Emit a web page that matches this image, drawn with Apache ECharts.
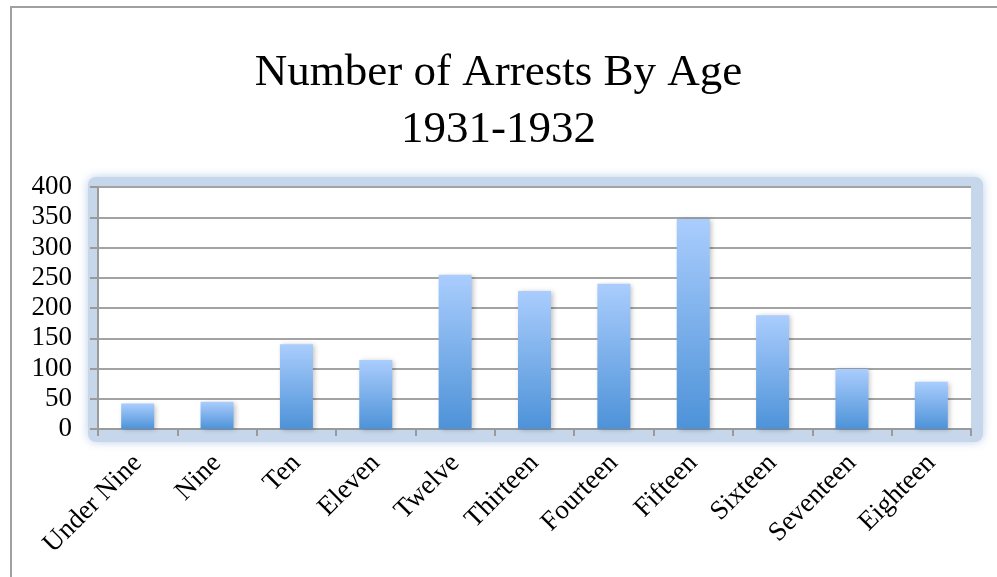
<!DOCTYPE html>
<html>
<head>
<meta charset="utf-8">
<script src="https://cdn.jsdelivr.net/npm/echarts@6/dist/echarts.min.js"></script>
<style>
  html, body { margin: 0; padding: 0; background: #fff; }
  #arrestsChart { width: 997px; height: 577px; }
</style>
</head>
<body>
<div id="arrestsChart"></div>
<script>
// ages and arrest counts
var ageLabels = ['Under Nine', 'Nine', 'Ten', 'Eleven', 'Twelve', 'Thirteen', 'Fourteen', 'Fifteen', 'Sixteen', 'Seventeen', 'Eighteen'];
var arrestCounts = [42, 45, 140, 114, 255, 228, 240, 347, 188, 99, 78];
var yTicks = [0, 50, 100, 150, 200, 250, 300, 350, 400];

var serif = '"Liberation Serif", "DejaVu Serif", serif';
var myChart = echarts.init(document.getElementById('arrestsChart'));

var option = {
    backgroundColor: '#fff',
    animation: false,
    title: {
        text: 'Number of Arrests By Age\n1931-1932',
        left: 'center',
        top: 45,
        padding: [0, 0, 0, 16],
        textStyle: {
            fontFamily: serif,
            fontSize: 45,
            fontWeight: 'normal',
            color: '#000',
            lineHeight: 57
        }
    },
    graphic: [
        {
            // outer frame, only left and top show
            type: 'rect',
            z: -10,
            shape: { x: 11, y: 7, width: 1010, height: 600 },
            style: { fill: '#fff', stroke: '#a0a0a0', lineWidth: 2 }
        },
        {
            // blue glow round the plot area
            type: 'rect',
            z: -5,
            shape: { x: 88, y: 177, width: 895, height: 265, r: 8 },
            style: {
                fill: '#c6d7ec',
                shadowBlur: 10,
                shadowColor: 'rgba(180,202,230,0.9)'
            }
        }
    ],
    grid: {
        left: 98,
        right: 26,
        top: 187,
        bottom: 148,
        show: true,
        backgroundColor: '#fff',
        borderWidth: 0
    },
    xAxis: {
        type: 'category',
        data: ageLabels,
        axisLine: { lineStyle: { color: '#9a9a9a', width: 2 } },
        axisTick: { show: true, length: 7, lineStyle: { color: '#9a9a9a', width: 2 } },
        axisLabel: {
            interval: 0,
            rotate: 45,
            margin: 30,
            fontFamily: serif,
            fontSize: 27,
            color: '#000'
        }
    },
    yAxis: {
        type: 'value',
        min: yTicks[0],
        max: yTicks[yTicks.length - 1],
        interval: yTicks[1] - yTicks[0],
        axisLine: { show: true, lineStyle: { color: '#9a9a9a', width: 2 } },
        axisTick: { show: true, length: 8, lineStyle: { color: '#9a9a9a', width: 2 } },
        axisLabel: {
            margin: 26,
            fontFamily: serif,
            fontSize: 27,
            color: '#000'
        },
        splitLine: { show: true, lineStyle: { color: '#a3a3a3', width: 2 } }
    },
    series: [
        {
            name: 'Arrests',
            type: 'bar',
            barWidth: 33,
            data: arrestCounts,
            itemStyle: {
                color: new echarts.graphic.LinearGradient(0, 0, 0, 1, [
                    { offset: 0, color: '#aacdfd' },
                    { offset: 1, color: '#4d92d8' }
                ]),
                shadowBlur: 5,
                shadowColor: 'rgba(0,0,0,0.25)',
                shadowOffsetX: 2,
                shadowOffsetY: 1
            }
        }
    ]
};
myChart.setOption(option);
</script>
</body>
</html>
